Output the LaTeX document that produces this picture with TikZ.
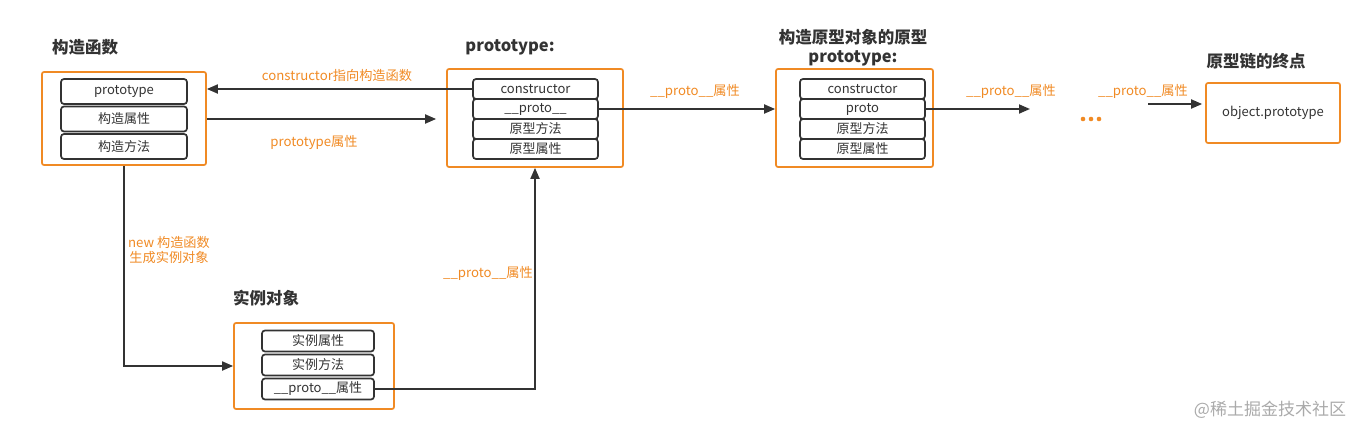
\documentclass[tikz,border=0pt]{standalone}
\usepackage{fontspec}
\setmainfont{Noto Sans CJK SC}
\usetikzlibrary{
  arrows.meta,
  positioning,
  calc
}
\definecolor{lineOrange}{RGB}{240,138,36}
\definecolor{darkGray}{RGB}{51,51,51}
\definecolor{markGray}{RGB}{170,170,170}
\tikzset{
  outer box/.style={
    draw=lineOrange,
    line width=1.7pt,
    rounded corners=2pt,
    inner sep=0pt
  },
  row box/.style={
    draw=darkGray,
    fill=white,
    line width=1.7pt,
    rounded corners=3pt,
    inner sep=0pt,
    text=darkGray,
    font=\fontsize{13}{14}\selectfont
  },
  title/.style={
    text=darkGray,
    font=\fontsize{16.5}{19}\selectfont\bfseries,
    align=center
  },
  label/.style={
    text=lineOrange,
    font=\fontsize{13.2}{15.5}\selectfont,
    align=center
  },
  arr/.style={
    draw=darkGray,
    line width=1.8pt,
    -{Triangle[length=11pt,width=9pt]}
  }
}

\begin{document}
\begin{tikzpicture}[x=1pt, y=-1pt]
    \useasboundingbox (0,0) rectangle (1366,434);

    % outer boxes
    \node[outer box, minimum width=164pt, minimum height=93pt] (func) at (124,118.5) {};
    \node[outer box, minimum width=176pt, minimum height=98pt] (proto) at (535,118) {};
    \node[outer box, minimum width=157pt, minimum height=98pt] (upper) at (854.5,118) {};
    \node[outer box, minimum width=134pt, minimum height=60pt,
      text=darkGray, font=\fontsize{13}{14}\selectfont] (last) at (1273,113) {object.prototype};
    \node[outer box, minimum width=160pt, minimum height=86pt] (inst) at (314,366) {};

    % rows
    \foreach \t [count=\i] in {prototype,构造属性,构造方法}{
      \node[row box, minimum width=126pt, minimum height=25pt]
        (func\i) at (124,{91.5+(\i-1)*27.5}) {\t};
    }
    \foreach \t [count=\i] in {constructor,\_\_proto\_\_,原型方法,原型属性}{
      \node[row box, minimum width=125pt, minimum height=20pt]
        (proto\i) at (535.5,{89+(\i-1)*20}) {\t};
    }
    \foreach \t [count=\i] in {constructor,proto,原型方法,原型属性}{
      \node[row box, minimum width=125pt, minimum height=20pt]
        (upper\i) at (862.5,{89+(\i-1)*20}) {\t};
    }
    \foreach \t [count=\i] in {实例属性,实例方法,\_\_proto\_\_属性}{
      \node[row box, minimum width=112pt, minimum height=21pt]
        (inst\i) at (318,{341+(\i-1)*24}) {\t};
    }

    % titles
    \node[title] (funcT)  at (85,47)   {构造函数};
    \node[title] (protoT) at (510,47)  {prototype:};
    \node[title] (upperT) at (853,47.5) {构造原型对象的原型\\prototype:};
    \node[title] (lastT)  at (1256,61) {原型链的终点};
    \node[title] (instT)  at (266,298) {实例对象};

    % connectors
    \draw[arr] (proto1.west) -- (proto1.west -| func.east);
    \draw[arr, shorten >=10pt] (func2.east -| func.east) -- (func2.east -| proto.west);
    \draw[arr] (proto2.east) -- (proto2.east -| upper.west);
    \coordinate (chainEnd) at (1030,109);
    \draw[arr] (upper2.east) -- (chainEnd);
    \coordinate (chainFrom) at (1148,104);
    \draw[arr, shorten >=3pt] (chainFrom) -- (chainFrom -| last.west);
    \draw[arr] (func.south) |- (inst.west);
    \draw[arr] (inst3.east) -| (proto.south);

    \foreach \x in {1083,1091,1099}{
      \fill[lineOrange] (\x,119) circle (2.3pt);
    }

    % labels
    \node[label] (ctorL)  at (337,75)  {constructor指向构造函数};
    \node[label] (protoL) at (314,142) {prototype属性};
    \node[label] (linkA)  at (695,91)  {\_\_proto\_\_属性};
    \node[label] (linkB)  at (1011,91) {\_\_proto\_\_属性};
    \node[label] (linkC)  at (1143,91) {\_\_proto\_\_属性};
    \node[label] (newL)   at (169,250) {new 构造函数\\生成实例对象};
    \node[label] (linkD)  at (488,273) {\_\_proto\_\_属性};

    \node[text=markGray, font=\fontsize{17}{19}\selectfont] (mark) at (1270,410) {@稀土掘金技术社区};
 \end{tikzpicture}
\end{document}
